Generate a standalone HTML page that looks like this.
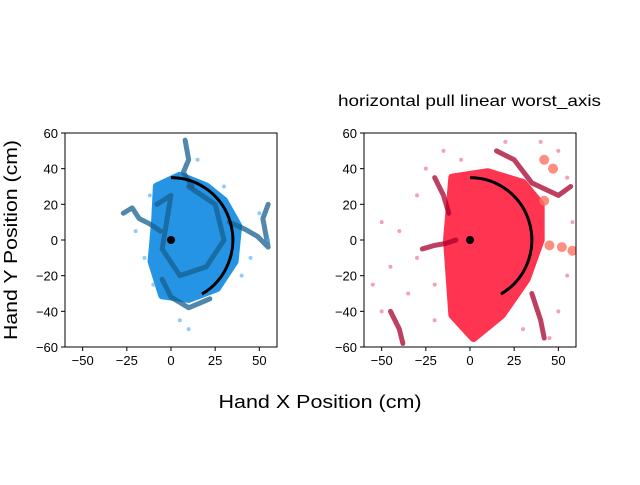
<!DOCTYPE html>
<html><head><meta charset="utf-8"><style>
body{margin:0;background:#fff;width:640px;height:480px;overflow:hidden}
svg{font-family:"Liberation Sans",sans-serif}
</style></head><body>
<svg id="fig" width="640" height="480">
<text id="t1" x="469.5" y="106" font-size="16" text-anchor="middle" textLength="263" lengthAdjust="spacingAndGlyphs">horizontal pull linear worst_axis</text>
<text id="t2" x="320" y="408" font-size="18" text-anchor="middle" textLength="203" lengthAdjust="spacingAndGlyphs">Hand X Position (cm)</text>
<text id="t3" transform="translate(17,240) rotate(-90)" font-size="18" text-anchor="middle" textLength="200" lengthAdjust="spacingAndGlyphs">Hand Y Position (cm)</text>
</svg>
<script>
const xTicks=[-50,-25,0,25,50];
const yTicks=[-60,-40,-20,0,20,40,60];
const blueBlob=[[-8,30],[5,36],[20,30],[30,22],[38,8],[36,-12],[26,-27],[10,-33],[-5,-31],[-11,-12],[-9,10]];
const blueTrails=[
 [[-27,15],[-22,18],[-18,12],[-12,9],[-6,5]],
 [[8,56],[10,45],[7,38],[12,30]],
 [[33,10],[42,6],[49,2],[55,-4],[52,12],[55,20]],
 [[-5,-22],[0,-32],[10,-38],[22,-33]],
 [[-8,20],[0,25],[-5,-5],[5,-20],[20,-15],[30,0],[25,20],[10,30]]];
const blueLight=[[-15,-10],[-20,5],[5,-45],[10,-50],[50,15],[45,-10],[15,45],[-10,-25],[40,-20],[55,0],[30,30],[-12,25]];
const redBlob=[[-10,35],[10,38],[30,32],[40,20],[40,0],[32,-22],[18,-42],[2,-55],[-10,-42],[-13,0]];
const redTrails=[
 [[-27,-5],[-20,-3],[-14,-2],[-8,0]],
 [[15,50],[25,45],[35,32],[50,25],[57,30]],
 [[-20,35],[-15,25],[-12,15]],
 [[35,-30],[40,-45],[42,-55]],
 [[-45,-40],[-40,-50],[-38,-58]]];
const redSalmon=[[42,45],[47,40],[42,22],[45,-3],[52,-4],[58,-6]];
const redPink=[[-55,-25],[-50,-40],[-45,-15],[-40,5],[-35,-30],[-30,25],[-25,40],[-20,-45],[-15,50],[-5,45],[20,55],[40,55],[50,50],[55,35],[55,-20],[50,-40],[45,-55],[30,-50],[-30,-10],[-50,10],[58,10],[-20,-25]];
const NS="http://www.w3.org/2000/svg",fig=document.getElementById('fig');
function mk(t,a,p){const e=document.createElementNS(NS,t);for(const k in a)e.setAttribute(k,a[k]);(p||fig).appendChild(e);return e;}
function panel(x0,id,blob,trails,extra,light,cFill,cTrail,cLight,cExtra){
 const x1=x0+212,y0=133,y1=347;
 const sx=v=>x0+(v+60)/120*212, sy=v=>y1-(v+60)/120*214;
 const g=mk('g',{});
 
 
 const pts=a=>a.map(p=>sx(p[0])+','+sy(p[1])).join(' ');
 const b=mk('polygon',{points:pts(blob),fill:cFill,stroke:cFill,'stroke-width':8,'stroke-linejoin':'round',opacity:0.95},g);
 
 
 trails.forEach(t=>{const l=mk('polyline',{points:pts(t),fill:'none',stroke:cTrail,'stroke-width':5,'stroke-linecap':'round','stroke-linejoin':'round',opacity:0.75},g);
  
  });
 extra.forEach(p=>{const c=mk('circle',{cx:sx(p[0]),cy:sy(p[1]),r:5,fill:cExtra,opacity:0.8},g);
  
  });
 light.forEach(p=>{const c=mk('circle',{cx:sx(p[0]),cy:sy(p[1]),r:2,fill:cLight,opacity:0.6},g);
  
  });
 const r=35,a0=Math.PI/2,a1=-Math.PI/3;
 const arc=mk('path',{d:`M${sx(r*Math.cos(a0))},${sy(r*Math.sin(a0))} A${r/120*212},${r/120*214} 0 0 1 ${sx(r*Math.cos(a1))},${sy(r*Math.sin(a1))}`,fill:'none',stroke:'#000','stroke-width':3},g);
 
 
 const d=mk('circle',{cx:sx(0),cy:sy(0),r:4,fill:'#000'},g);
 
 
 mk('rect',{x:x0-60,y:0,width:60,height:y1+1,fill:'#fff'},g);
 mk('rect',{x:x1,y:0,width:60,height:y1+1,fill:'#fff'},g);
 mk('rect',{x:x0-60,y:y1,width:332,height:40,fill:'#fff'},g);
 mk('rect',{x:x0-60,y:y0-60,width:332,height:60,fill:'#fff'},g);
 const fr=mk('rect',{x:x0,y:y0,width:212,height:214,fill:'none',stroke:'#000','stroke-width':1},g);
 
 
 xTicks.forEach(v=>{mk('line',{x1:sx(v),x2:sx(v),y1:y1,y2:y1+4,stroke:'#000'},g);
  const t=mk('text',{x:sx(v),y:y1+18,'font-size':13,'text-anchor':'middle'},g);t.textContent=v<0?'\u2212'+(-v):v;
  
  });
 yTicks.forEach(v=>{mk('line',{x1:x0-4,x2:x0,y1:sy(v),y2:sy(v),stroke:'#000'},g);
  const t=mk('text',{x:x0-7,y:sy(v)+5,'font-size':13,'text-anchor':'end'},g);t.textContent=v<0?'\u2212'+(-v):v;
  
  });
}
panel(65,'left',blueBlob,blueTrails,[],blueLight,'#1a8fe3','#175f8f','#4aaaf0','#4aaaf0');
panel(364,'right',redBlob,redTrails,redSalmon,redPink,'#ff2a48','#a8002c','#f06080','#ff7060');
['t1','t2','t3'].forEach(i=>fig.appendChild(document.getElementById(i)));
</script>
</body></html>
